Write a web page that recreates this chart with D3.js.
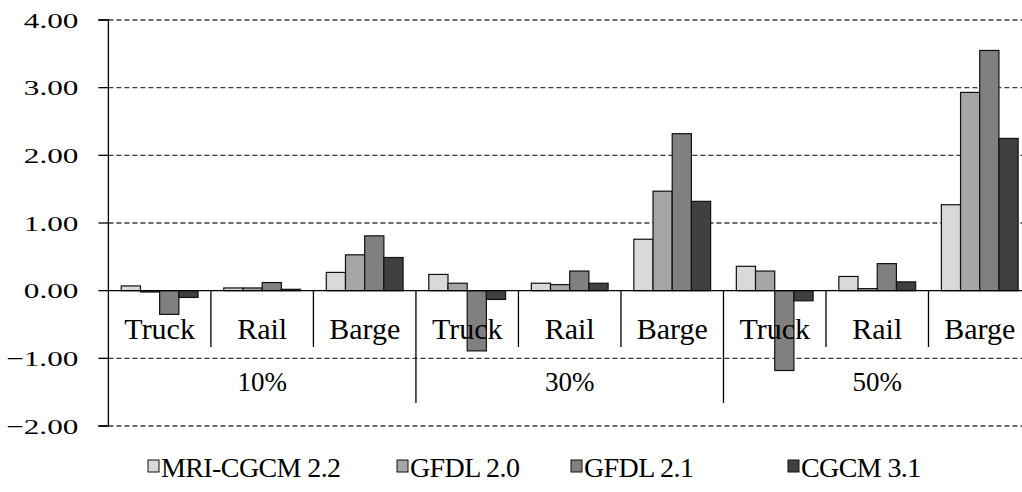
<!DOCTYPE html>
<html>
<head>
<meta charset="utf-8">
<script src="https://cdn.jsdelivr.net/npm/d3@7"></script>
<style>
  html, body { margin: 0; padding: 0; background: #fff; }
  svg { display: block; }
  text { font-family: "Liberation Serif", "Times New Roman", serif; fill: #000; }
</style>
</head>
<body>
<svg id="chart" width="1022" height="492"></svg>
<script>
// Change in cost by scenario, transport mode and climate model
const groups = ["10%", "30%", "50%"];
const modes = ["Truck", "Rail", "Barge"];
const series = ["MRI-CGCM 2.2", "GFDL 2.0", "GFDL 2.1", "CGCM 3.1"];
const colors = ["#d9d9d9", "#a6a6a6", "#808080", "#404040"];
const yTicks = [-2, -1, 0, 1, 2, 3, 4];

// values[group][mode] = one value per series
const values10 = [[0.07, -0.02, -0.35, -0.10], [0.04, 0.04, 0.12, 0.02], [0.27, 0.53, 0.81, 0.49]];
const values30 = [[0.24, 0.11, -0.89, -0.13], [0.11, 0.09, 0.29, 0.11], [0.76, 1.47, 2.32, 1.32]];
const values50 = [[0.36, 0.29, -1.18, -0.15], [0.21, 0.03, 0.40, 0.13], [1.27, 2.93, 3.55, 2.25]];
const values = [values10, values30, values50];

const svg = d3.select("#chart");

const plotLeft = 108.4, plotRight = 1031, plotTop = 20, plotBottom = 426;

const cats = [];
groups.forEach((g, gi) => modes.forEach((m, mi) => cats.push({ key: g + "|" + m, group: g, mode: m, vals: values[gi][mi] })));

const x0 = d3.scaleBand().domain(cats.map(c => c.key)).range([plotLeft, plotRight]).paddingInner(0).paddingOuter(0);
const x1 = d3.scaleBand().domain(series).range([0, x0.bandwidth()]).paddingInner(0).paddingOuter(0.67);
const y = d3.scaleLinear().domain([-2, 4]).range([plotBottom, plotTop]);

// dashed gridlines
svg.append("g").selectAll("line").data(yTicks.filter(t => t !== 0)).join("line")
  .attr("x1", plotLeft).attr("x2", 1022)
  .attr("y1", d => y(d)).attr("y2", d => y(d))
  .attr("stroke", "#3a3a3a").attr("stroke-width", 1.3)
  .attr("stroke-dasharray", "5,3");

// y axis
const yAxis = d3.axisLeft(y).tickValues(yTicks).tickSize(10).tickFormat(d3.format(".2f"));
const ya = svg.append("g").attr("transform", `translate(${plotLeft},0)`).call(yAxis);
ya.select(".domain").attr("stroke", "#000").attr("stroke-width", 1.3).attr("d", `M-10,${plotTop}H0V${plotBottom}H-10`);
ya.selectAll(".tick line").attr("stroke", "#000").attr("stroke-width", 1.3);
ya.selectAll(".tick").attr("transform", null);
ya.selectAll(".tick line").attr("y1", d => y(d)).attr("y2", d => y(d));
ya.selectAll(".tick text").each(function (d) {
  d3.select(this)
   .attr("x", null).attr("dy", null).attr("y", 0)
   .attr("text-anchor", "end")
   .attr("fill", "#000")
   .attr("font-family", "Liberation Serif")
   .attr("font-size", 22)
   .attr("transform", `translate(-30,${y(d) + 7.5}) scale(1.42,1)`);
});

// separators below the zero line
svg.append("g").selectAll("line").data(cats.slice(1)).join("line")
  .attr("x1", d => x0(d.key)).attr("x2", d => x0(d.key))
  .attr("y1", y(0))
  .attr("y2", (d, i) => ((i + 1) % 3 === 0 ? 403 : 347))
  .attr("stroke", "#000").attr("stroke-width", 1.3);

// bars
const catG = svg.append("g").selectAll("g").data(cats).join("g")
  .attr("transform", d => `translate(${x0(d.key)},0)`);
catG.selectAll("rect").data(d => d.vals.map((v, i) => ({ s: series[i], v, c: colors[i] }))).join("rect")
  .attr("x", d => x1(d.s))
  .attr("width", x1.bandwidth())
  .attr("y", d => y(Math.max(0, d.v)))
  .attr("height", d => Math.abs(y(d.v) - y(0)))
  .attr("fill", d => d.c)
  .attr("stroke", "#111").attr("stroke-width", 1.2);

// zero line
svg.append("line").attr("x1", plotLeft).attr("x2", 1022).attr("y1", y(0)).attr("y2", y(0))
  .attr("stroke", "#000").attr("stroke-width", 1.3);

// mode labels
svg.append("g").selectAll("text").data(cats).join("text")
  .attr("x", d => x0(d.key) + x0.bandwidth() / 2)
  .attr("y", 339)
  .attr("text-anchor", "middle")
  .attr("font-size", 30)
  .text(d => d.mode);

// scenario labels
svg.append("g").selectAll("text").data(groups).join("text")
  .attr("x", (g, i) => x0(cats[i * 3].key) + x0.bandwidth() * 1.5)
  .attr("y", 391)
  .attr("text-anchor", "middle")
  .attr("font-size", 27)
  .text(d => d);

// legend
const legendX = [148, 397, 571, 788];
const lg = svg.append("g").selectAll("g").data(series).join("g")
  .attr("transform", (d, i) => `translate(${legendX[i]},0)`);
lg.append("rect").attr("x", 0).attr("y", 460).attr("width", 11).attr("height", 12)
  .attr("fill", (d, i) => colors[i]).attr("stroke", "#111").attr("stroke-width", 1);
lg.append("text").attr("x", 13).attr("y", 477).attr("font-size", 28)
  .attr("letter-spacing", -0.6)
  .text(d => d);
</script>
</body>
</html>
